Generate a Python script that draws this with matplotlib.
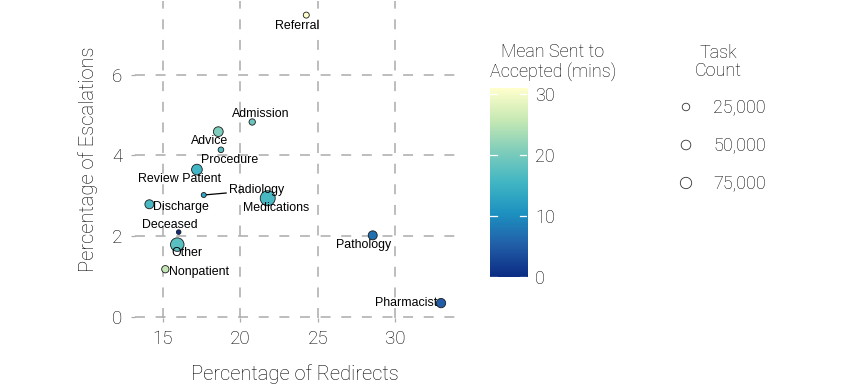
import numpy as np
import matplotlib
matplotlib.use("Agg")
import matplotlib.pyplot as plt
from matplotlib.colors import LinearSegmentedColormap, Normalize
from matplotlib import font_manager

# ---------------- data ----------------
names = ["Referral", "Admission", "Advice", "Procedure", "Review Patient", "Radiology",
         "Medications", "Discharge", "Deceased", "Other", "Nonpatient", "Pathology", "Pharmacist"]
redirects = [24.25, 20.76, 18.57, 18.74, 17.19, 17.63, 21.76, 14.12, 16.01, 15.92, 15.15, 28.54, 32.95]
escalations = [7.48, 4.83, 4.59, 4.14, 3.65, 3.02, 2.94, 2.79, 2.10, 1.79, 1.18, 2.02, 0.34]
task_count = [11000, 14000, 52000, 8000, 65000, 3500, 141000, 42000, 500, 112000, 23000, 42000, 46000]
mean_mins = [31, 19, 20.5, 17, 15.5, 13, 16, 16, 0, 17.5, 25.5, 7, 5.2]

x_ticks = [15, 20, 25, 30]
y_ticks = [0, 2, 4, 6]
cbar_ticks = [0, 10, 20, 30]
size_legend = [25000, 50000, 75000]
size_legend_labels = ["25,000", "50,000", "75,000"]

# ---------------- style ----------------
avail = {f.name for f in font_manager.fontManager.ttflist}
light = "Roboto" if "Roboto" in avail else "Liberation Sans"
plt.rcParams["font.family"] = [light, "DejaVu Sans"]
label_font = "Liberation Sans"
dark = "#000000"
grid_col = "#ababab"

palette = ["#0c2c84", "#225ea8", "#1d91c0", "#41b6c4", "#7fcdbb", "#c7e9b4", "#ffffcc"]
cmap = LinearSegmentedColormap.from_list("ylgnbu_r", palette)
norm = Normalize(vmin=min(mean_mins), vmax=max(mean_mins))


def size_pts(count):
    d_px = np.sqrt(20 + 1.45 * np.asarray(count, dtype=float) / 1000.0)
    return (d_px * 0.72) ** 2


W, H = 850, 387
fig = plt.figure(figsize=(W / 100, H / 100), dpi=100)

# main panel
xr = max(redirects) - min(redirects)
yr = max(escalations) - min(escalations)
xlim = (min(redirects) - 0.05 * xr, max(redirects) + 0.05 * xr)
ylim = (min(escalations) - 0.05 * yr, max(escalations) + 0.05 * yr)

ax = fig.add_axes([134.8 / W, 1 - 317.5 / H, (455.6 - 134.8) / W, (317.5 - 0.7) / H])
ax.set_xlim(*xlim)
ax.set_ylim(*ylim)
for s in ax.spines.values():
    s.set_visible(False)
ax.set_xticks(x_ticks)
ax.set_yticks(y_ticks)
ax.tick_params(axis="both", colors=grid_col, length=3, width=0.9, labelsize=13.5,
               labelcolor=dark, pad=6)
for lab in ax.get_xticklabels() + ax.get_yticklabels():
    lab.set_fontweight("light")
ax.grid(True, color=grid_col, linewidth=1.1, linestyle=(0, (6.5, 7)))
ax.set_axisbelow(True)

ax.scatter(redirects, escalations, s=size_pts(task_count), c=mean_mins, cmap=cmap, norm=norm,
           edgecolors="#1a1a1a", linewidths=0.6, zorder=3)

# label offsets in pixels (text centre minus point centre; +y = down)
offsets = {
    "Referral": (-9, 10.5), "Admission": (8.7, -7.5), "Advice": (-9, 9.3),
    "Procedure": (8.5, 9.8), "Review Patient": (-17, 9), "Radiology": (53, -4.7),
    "Medications": (8.6, 9.3), "Discharge": (32, 2.5), "Deceased": (-8.7, -7.3),
    "Other": (9.9, 8.3), "Nonpatient": (33.7, 2.4), "Pathology": (-8.7, 10),
    "Pharmacist": (-34.7, 0.3),
}
for n, xv, yv in zip(names, redirects, escalations):
    dx, dy = offsets[n]
    kw = {}
    if n == "Radiology":
        kw["arrowprops"] = dict(arrowstyle="-", color="black", lw=0.9, shrinkA=0, shrinkB=2)
    ax.annotate(n, (xv, yv), xytext=(dx * 0.72, -dy * 0.72), textcoords="offset points",
                ha="center", va="center", fontsize=8.9, family=label_font, color="black",
                zorder=4, **kw)

ax.set_xlabel("Percentage of Redirects", fontsize=14.5, fontweight="light", color=dark, labelpad=12)
ax.set_ylabel("Percentage of Escalations", fontsize=14.5, fontweight="light", color=dark, labelpad=10)

# colorbar
cax = fig.add_axes([490 / W, 1 - 277 / H, 37 / W, 189 / H])
grad = np.linspace(norm.vmin, norm.vmax, 300).reshape(-1, 1)
cax.imshow(grad, aspect="auto", cmap=cmap, norm=norm, origin="lower",
           extent=(0, 1, norm.vmin, norm.vmax))
cax.set_xlim(0, 1)
cax.set_ylim(norm.vmin, norm.vmax)
for s in cax.spines.values():
    s.set_visible(False)
cax.set_xticks([])
cax.yaxis.tick_right()
cax.set_yticks(cbar_ticks)
cax.set_yticklabels([str(t) for t in cbar_ticks])
cax.tick_params(axis="y", length=0, labelsize=13, labelcolor=dark, pad=6)
for lab in cax.get_yticklabels():
    lab.set_fontweight("light")
for t in cbar_ticks:
    if t < norm.vmax - 0.5:
        cax.plot([0, 0.18], [t, t], color="white", lw=0.9)
        cax.plot([0.82, 1], [t, t], color="white", lw=0.9)
fig.text(553 / W, 1 - 62 / H, "Mean Sent to\nAccepted (mins)", ha="center", va="center",
         fontsize=13, fontweight="light", color=dark, linespacing=1.05)

# size legend
lax = fig.add_axes([0, 0, 1, 1])
lax.set_xlim(0, W)
lax.set_ylim(H, 0)
lax.axis("off")
fig.text(718 / W, 1 - 62 / H, "Task\nCount", ha="center", va="center",
         fontsize=13, fontweight="light", color=dark, linespacing=1.05)
ly = [107, 145, 183]
lax.scatter([686] * 3, ly, s=size_pts(size_legend), facecolors="white",
            edgecolors="#333333", linewidths=0.6)
for yy, lab in zip(ly, size_legend_labels):
    lax.text(713, yy, lab, ha="left", va="center", fontsize=13, fontweight="light", color=dark)

fig.savefig("out.png", dpi=100)
